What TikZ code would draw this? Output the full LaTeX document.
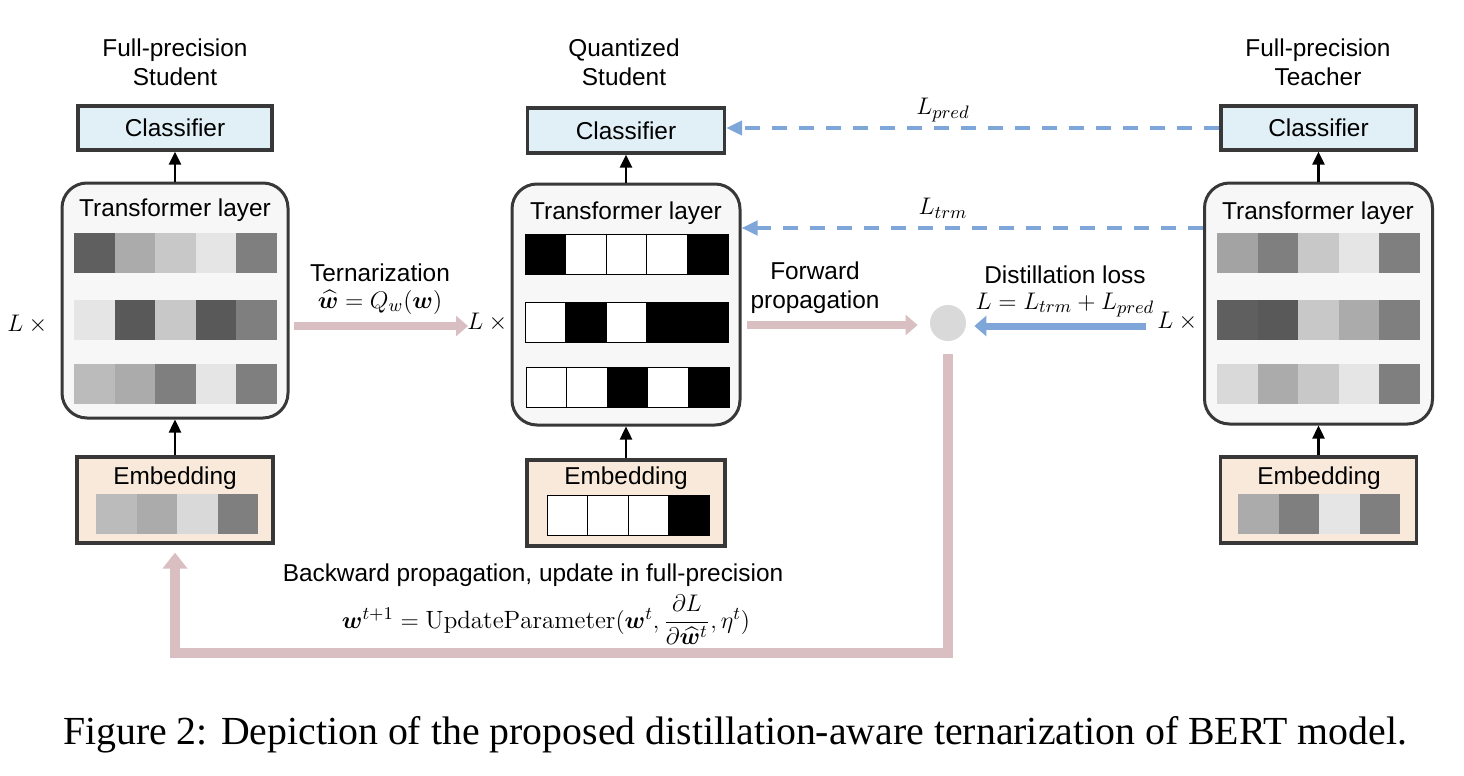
\documentclass[tikz,border=0pt]{standalone}
\usepackage{fontspec}
\usepackage{amsmath,bm}
\newfontfamily\arialf{Liberation Sans}
\newfontfamily\capf{Liberation Serif}
\usetikzlibrary{arrows.meta,calc}
\definecolor{bdr}{HTML}{383838}
\definecolor{clsfill}{HTML}{E0F0F6}
\definecolor{embfill}{HTML}{F8E9DB}
\definecolor{trfill}{HTML}{F7F7F7}
\definecolor{pinkarr}{HTML}{D9BFC1}
\definecolor{bluearr}{HTML}{7FA6D9}
\definecolor{lossfill}{HTML}{D9D9D9}
\newcommand\cellrow[5]{% #1 name, #2 x0, #3 y, #4 colors, #5 style
  \foreach \c [count=\i] in {#4} {%
    \definecolor{tmpc}{HTML}{\c}%
    \node[#5,fill=tmpc] (#1\i) at ({#2+40.6*(\i-0.5)},#3) {};}}
\tikzset{
  lbl/.style={font=\arialf\fontsize{12.2}{14.6}\selectfont, inner sep=0pt, align=center},
  mth/.style={font=\fontsize{12.5}{15}\selectfont, inner sep=0pt},
  clsbox/.style={draw=bdr, line width=1.6pt, fill=clsfill, minimum width=97pt, minimum height=22pt, inner sep=0pt, font=\arialf\fontsize{12.2}{14.6}\selectfont},
  embbox/.style={draw=bdr, line width=1.6pt, fill=embfill, minimum width=98pt, minimum height=43pt, inner sep=0pt},
  trbox/.style={draw=bdr, line width=1.5pt, fill=trfill, rounded corners=12.5pt, inner sep=0pt},
  gcell/.style={draw=none, minimum width=20.3pt, minimum height=20pt, inner sep=0pt},
  tcell/.style={draw=black, line width=0.5pt, minimum width=20.3pt, minimum height=20pt, inner sep=0pt},
  blk/.style={draw=black, line width=1.2pt, -{Triangle[length=6.5pt,width=6pt]}},
  pinka/.style={draw=pinkarr, line width=4pt, -{Triangle[length=6pt,width=10pt]}},
  bluea/.style={draw=bluearr, line width=3.5pt, -{Triangle[length=6pt,width=10pt]}},
  dsh/.style={draw=bluearr, line width=2pt, dash pattern=on 7.5pt off 6pt, -{Triangle[length=8pt,width=7pt]}},
  backa/.style={draw=pinkarr, line width=5pt, -{Triangle[length=8pt,width=12pt]}}
}
\begin{document}
\begin{tikzpicture}[x=0.5pt,y=-0.5pt]
\useasboundingbox (0,0) rectangle (1464,776);
\fill[white] (0,0) rectangle (1464,776);

% ---------- Left: full-precision student ----------
\node[lbl] (t1) at (175,62) {Full-precision\\Student};
\node[clsbox] (cls1) at (175,128) {Classifier};
\node[trbox, minimum width=113pt, minimum height=117.5pt] (tr1) at (175,300.5) {};
\node[lbl] (tl1) at (175,210) {Transformer layer};
\cellrow{a1r}{74}{252.5}{5F5F5F,ABABAB,C8C8C8,E5E5E5,7F7F7F}{gcell}
\cellrow{a2r}{74}{320}{E5E5E5,595959,C8C8C8,595959,7F7F7F}{gcell}
\cellrow{a3r}{74}{384}{BBBBBB,ABABAB,7F7F7F,E5E5E5,7F7F7F}{gcell}
\node[embbox] (emb1) at (175,500) {};
\node[lbl] (el1) at (175,478) {Embedding};
\cellrow{ae}{96}{513.5}{BBBBBB,ABABAB,D9D9D9,7F7F7F}{gcell}
\draw[blk] (tr1.north) -- (cls1.south);
\draw[blk] (emb1.north) -- (tr1.south);
\node[mth] (lx1) at (30,324) {$L\times{}$};

% ---------- Middle: quantized student ----------
\node[lbl] (t2) at (624,62) {Quantized\\Student};
\node[clsbox, minimum width=98.5pt, minimum height=22.5pt] (cls2) at (626,130.5) {Classifier};
\node[trbox, minimum width=114pt, minimum height=120.5pt] (tr2) at (626,304.5) {};
\node[lbl] (tl2) at (626,213) {Transformer layer};
\cellrow{b1r}{525}{254.5}{000000,FFFFFF,FFFFFF,FFFFFF,000000}{tcell}
\cellrow{b2r}{525}{322}{FFFFFF,000000,FFFFFF,000000,000000}{tcell}
\cellrow{b3r}{526}{387}{FFFFFF,FFFFFF,000000,FFFFFF,000000}{tcell}
\node[embbox, minimum width=99pt] (emb2) at (626,503) {};
\node[lbl] (el2) at (626,478) {Embedding};
\cellrow{be}{547}{515}{FFFFFF,FFFFFF,FFFFFF,000000}{tcell}
\draw[blk] (tr2.north) -- (cls2.south);
\draw[blk] (emb2.north) -- (tr2.south);
\node[mth] (lx2) at (490,322) {$L\times{}$};

% ---------- Right: full-precision teacher ----------
\node[lbl] (t3) at (1318,62) {Full-precision\\Teacher};
\node[clsbox, minimum width=97.5pt] (cls3) at (1318.5,128) {Classifier};
\node[trbox, minimum width=114pt, minimum height=120.5pt] (tr3) at (1318.5,303.5) {};
\node[lbl] (tl3) at (1318,213) {Transformer layer};
\cellrow{c1r}{1217}{253}{A3A3A3,7F7F7F,C8C8C8,E5E5E5,7F7F7F}{gcell}
\cellrow{c2r}{1217}{320}{5F5F5F,595959,C8C8C8,ABABAB,7F7F7F}{gcell}
\cellrow{c3r}{1217}{384}{D9D9D9,ABABAB,C8C8C8,E5E5E5,7F7F7F}{gcell}
\node[embbox] (emb3) at (1318.5,500) {};
\node[lbl] (el3) at (1319,478) {Embedding};
\cellrow{ce}{1238}{513.5}{ABABAB,7F7F7F,E5E5E5,7F7F7F}{gcell}
\draw[blk] (tr3.north) -- (cls3.south);
\draw[blk] (emb3.north) -- (tr3.south);
\node[mth] (lx3) at (1180,321) {$L\times{}$};

% ---------- Ternarization ----------
\node[lbl] (tern) at (380,273) {Ternarization};
\node[mth] (ternf) at (380,302) {$\widehat{\bm{w}}=Q_w(\bm{w})$};
\coordinate (ts) at (294,326);
\coordinate (te) at (468,326);
\draw[pinka] (ts) -- (te);

% ---------- Forward / loss ----------
\node[lbl] (fwd) at (815,288) {Forward\\propagation};
\node[circle, fill=lossfill, minimum size=18pt, inner sep=0pt] (loss) at (948,323) {};
\coordinate (fs) at (747,325);
\draw[pinka, shorten >=6pt] (fs) -- (loss.west |- fs);
\node[lbl] (dl) at (1065,275) {Distillation loss};
\node[mth] (dlf) at (1065,305) {$L=L_{trm}+L_{pred}$};
\coordinate (ds) at (1146,326);
\draw[bluea, shorten >=4pt] (ds) -- (loss.east |- ds);

% ---------- Distillation dashed arrows ----------
\draw[dsh] (cls3.west) -- (cls3.west -| cls2.east);
\node[mth] (lp) at (943,110) {$L_{pred}$};
\coordinate (lt) at (0,228);
\draw[dsh] (tr3.west |- lt) -- (tr2.east |- lt);
\node[mth] (ltl) at (943,208) {$L_{trm}$};

% ---------- Backward ----------
\coordinate (bk) at (0,653);
\draw[backa, shorten <=6.5pt, shorten >=4pt] (loss.south) -- (loss.south |- bk) -| (emb1.south);
\node[lbl] (bw) at (533,575) {Backward propagation, update in full-precision};
\node[mth] (bwf) at (546,620) {$\bm{w}^{t+1}=\mathrm{UpdateParameter}(\bm{w}^{t},\dfrac{\partial L}{\partial\widehat{\bm{w}}^{t}},\eta^{t})$};

% ---------- Caption ----------
\node[font=\capf\fontsize{19.9}{24}\selectfont, inner sep=0pt] (cap) at (735,735) {Figure 2: Depiction of the proposed distillation-aware ternarization of BERT model.};
\end{tikzpicture}
\end{document}
